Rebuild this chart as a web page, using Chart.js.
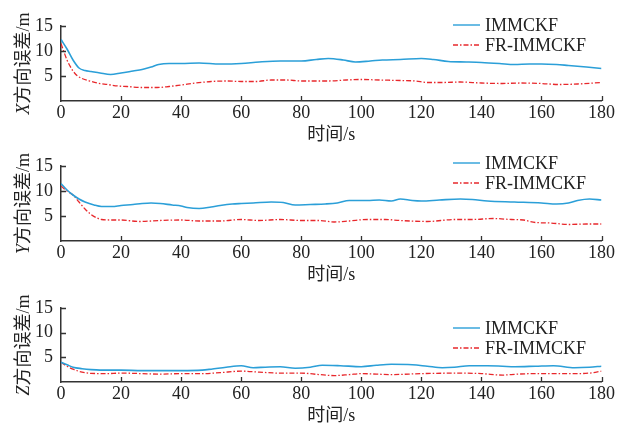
<!DOCTYPE html>
<html>
<head>
<meta charset="utf-8">
<script src="https://cdn.jsdelivr.net/npm/chart.js@4.4.1/dist/chart.umd.min.js"></script>
<style>
html, body { margin: 0; padding: 0; background: #fff; width: 624px; height: 425px; overflow: hidden; }
body { position: relative; }
canvas { position: absolute; left: 0; }
</style>
</head>
<body>
<canvas id="chartX" width="624" height="150" style="top:0px"></canvas>
<canvas id="chartY" width="624" height="150" style="top:140px"></canvas>
<canvas id="chartZ" width="624" height="150" style="top:282px"></canvas>
<script>
// axis ticks
const timeTicks = [0, 20, 40, 60, 80, 100, 120, 140, 160, 180];
const errorTicks = [5, 10, 15];
const seriesNames = ['IMMCKF', 'FR-IMMCKF'];

// X direction
const xTimeImm = [0, 2, 4, 6, 8, 10, 13, 16.5, 20, 24, 27, 30, 32.5, 36, 40, 46, 53, 60, 66, 73, 80, 85, 89, 94, 98, 103, 107, 113, 120, 124, 129, 135, 140, 146, 151, 156, 160, 165, 169, 175, 180];
const xErrImm = [12.3, 10.4, 8.2, 6.6, 6.1, 5.9, 5.6, 5.3, 5.6, 6.0, 6.3, 6.8, 7.3, 7.5, 7.5, 7.6, 7.4, 7.5, 7.8, 8.0, 8.0, 8.3, 8.5, 8.2, 7.8, 8.0, 8.2, 8.3, 8.5, 8.3, 7.9, 7.8, 7.7, 7.5, 7.3, 7.4, 7.4, 7.3, 7.1, 6.8, 6.5];
const xTimeFr = [0, 1, 2, 3, 4, 5.5, 7, 9, 12, 15.5, 19, 22, 27, 32, 36, 40, 45, 50, 55, 60, 65, 70, 75, 80, 85, 89, 95, 100, 106, 113, 118, 122, 127, 133, 140, 147, 153, 160, 166, 172, 180];
const xErrFr = [11.5, 9.8, 8.2, 7.0, 6.0, 5.0, 4.5, 4.1, 3.6, 3.3, 3.0, 2.9, 2.7, 2.7, 2.9, 3.2, 3.6, 3.9, 4.0, 3.9, 3.9, 4.2, 4.2, 4.0, 4.0, 4.0, 4.2, 4.3, 4.2, 4.1, 4.0, 3.7, 3.7, 3.8, 3.6, 3.5, 3.6, 3.5, 3.3, 3.4, 3.7];

// Y direction
const yTimeImm = [0, 2, 4, 6, 8, 11, 13.5, 17, 20, 24, 27, 30, 33, 37, 40, 42, 46, 50, 53, 57, 60, 64, 70, 74, 78, 83, 88, 92, 96, 102, 106, 110, 113, 117, 120, 126, 133, 137, 142, 151, 160, 165, 169, 172, 176, 180];
const yErrImm = [11.5, 10.2, 9.2, 8.4, 7.8, 7.2, 6.9, 6.9, 7.1, 7.3, 7.5, 7.6, 7.5, 7.2, 7.0, 6.7, 6.5, 6.8, 7.1, 7.4, 7.5, 7.6, 7.8, 7.7, 7.2, 7.3, 7.4, 7.6, 8.1, 8.1, 8.2, 8.0, 8.4, 8.1, 8.0, 8.2, 8.4, 8.3, 8.0, 7.8, 7.6, 7.4, 7.6, 8.1, 8.4, 8.2];
const yTimeFr = [0, 2, 4, 6, 8, 10, 12, 13.5, 17, 20, 26, 33, 40, 46, 53, 60, 66, 73, 80, 86, 91, 96, 102, 108, 113, 122, 131, 137, 144, 150, 154, 158, 163, 169, 175, 180];
const yErrFr = [11.0, 10.0, 9.2, 7.8, 6.4, 5.3, 4.6, 4.3, 4.2, 4.2, 3.9, 4.1, 4.2, 4.0, 4.0, 4.3, 4.1, 4.3, 4.1, 4.1, 3.8, 4.0, 4.3, 4.3, 4.1, 3.9, 4.3, 4.3, 4.5, 4.3, 4.2, 3.7, 3.6, 3.3, 3.4, 3.4];

// Z direction
const zTimeImm = [0, 2, 4, 7, 10, 13, 20, 27, 33, 40, 47, 50, 55, 60, 64, 68, 73, 78, 83, 87, 93, 100, 105, 110, 117, 122, 127, 131, 136, 142, 147, 151, 158, 164, 171, 176, 180];
const zErrImm = [4.0, 3.5, 3.0, 2.7, 2.5, 2.4, 2.4, 2.3, 2.3, 2.3, 2.4, 2.6, 3.0, 3.3, 2.9, 3.0, 3.1, 2.8, 3.0, 3.4, 3.3, 3.1, 3.4, 3.6, 3.5, 3.2, 2.9, 3.0, 3.3, 3.3, 3.2, 3.1, 3.2, 3.3, 2.9, 3.0, 3.2];
const zTimeFr = [0, 2, 4, 7, 10, 15, 20, 27, 33, 40, 47, 53, 60, 66, 73, 80, 86, 91, 96, 100, 105, 110, 120, 133, 140, 147, 152, 158, 165, 170, 176, 180];
const zErrFr = [4.0, 3.2, 2.6, 2.0, 1.75, 1.7, 1.8, 1.7, 1.6, 1.7, 1.7, 1.9, 2.2, 2.0, 1.8, 1.8, 1.5, 1.3, 1.5, 1.7, 1.6, 1.5, 1.7, 1.8, 1.7, 1.4, 1.6, 1.7, 1.7, 1.7, 1.8, 2.2];

const blue = '#2b9fd8';
const red = '#e8282c';
const redDash = [5, 2, 1.5, 2];
const serif = '"Liberation Serif", "Times New Roman", "Noto Sans CJK SC", serif';
const axisColor = '#333';

// inward ticks, rotated y title with italic letter, and the legend
const panelDecor = {
    id: 'panelDecor',
    afterDraw(chart, args, opts) {
        const ctx = chart.ctx;
        const area = chart.chartArea;
        const xs = chart.scales.x, ys = chart.scales.y;
        ctx.save();

        ctx.strokeStyle = axisColor;
        ctx.lineWidth = 1.3;
        ctx.beginPath();
        timeTicks.forEach(t => {
            if (t === 0) return;
            const px = Math.round(xs.getPixelForValue(t)) + 0.5;
            ctx.moveTo(px, area.bottom);
            ctx.lineTo(px, area.bottom - 5);
        });
        errorTicks.forEach(v => {
            const py = Math.round(ys.getPixelForValue(v)) + 0.5;
            ctx.moveTo(area.left, py);
            ctx.lineTo(area.left + 5, py);
        });
        ctx.stroke();

        // y title
        const italicFont = 'italic 18px ' + serif;
        const plainFont = '18px ' + serif;
        ctx.font = italicFont;
        const w1 = ctx.measureText(opts.letter).width;
        ctx.font = plainFont;
        const w2 = ctx.measureText(opts.rest).width;
        ctx.translate(24, (area.top + area.bottom) / 2);
        ctx.rotate(-Math.PI / 2);
        ctx.fillStyle = '#222';
        ctx.textBaseline = 'middle';
        ctx.textAlign = 'left';
        ctx.font = italicFont;
        ctx.fillText(opts.letter, -(w1 + w2) / 2, 0);
        ctx.font = plainFont;
        ctx.fillText(opts.rest, -(w1 + w2) / 2 + w1, 0);
        ctx.setTransform(1, 0, 0, 1, 0, 0);

        // legend
        const colors = [blue, red];
        const dashes = [[], redDash];
        opts.legendY.forEach((ly, i) => {
            ctx.strokeStyle = colors[i];
            ctx.lineWidth = 1.4;
            ctx.setLineDash(dashes[i]);
            ctx.beginPath();
            ctx.moveTo(453, ly);
            ctx.lineTo(480, ly);
            ctx.stroke();
            ctx.setLineDash([]);
            ctx.fillStyle = '#222';
            ctx.font = plainFont;
            ctx.textBaseline = 'middle';
            ctx.textAlign = 'left';
            ctx.fillText(seriesNames[i], 485, ly + 1);
        });
        ctx.restore();
    }
};

function toPoints(times, values) {
    return times.map((t, i) => ({ x: t, y: values[i] }));
}

function makePanel(id, letter, immT, immV, frT, frV, legendY, areaH) {
    const xHeight = 150 - 26 - areaH;
    new Chart(document.getElementById(id), {
        type: 'line',
        data: {
            datasets: [{
                label: seriesNames[0],
                data: toPoints(immT, immV),
                borderColor: blue,
                borderWidth: 1.6,
                pointRadius: 0,
                cubicInterpolationMode: 'monotone',
                fill: false
            }, {
                label: seriesNames[1],
                data: toPoints(frT, frV),
                borderColor: red,
                borderWidth: 1.3,
                borderDash: redDash,
                pointRadius: 0,
                cubicInterpolationMode: 'monotone',
                fill: false
            }]
        },
        options: {
            responsive: false,
            animation: false,
            devicePixelRatio: 1,
            layout: { padding: { top: 26, right: 22.5, left: 0, bottom: 0 } },
            plugins: {
                legend: { display: false },
                tooltip: { enabled: false },
                panelDecor: { letter: letter, rest: '方向误差/m', legendY: legendY }
            },
            scales: {
                x: {
                    type: 'linear',
                    min: 0,
                    max: 180,
                    grid: { display: false, drawTicks: false },
                    border: { display: true, color: axisColor, width: 1.5 },
                    ticks: { color: '#222', padding: 1, maxRotation: 0, font: { family: serif, size: 18 } },
                    afterBuildTicks: scale => { scale.ticks = timeTicks.map(v => ({ value: v })); },
                    afterFit: scale => { scale.height = xHeight; },
                    title: {
                        display: true,
                        text: '时间/s',
                        color: '#222',
                        font: { family: serif, size: 18, lineHeight: 1.2 },
                        padding: { top: 0, bottom: xHeight - 34 - 10.8 }
                    }
                },
                y: {
                    min: 0,
                    max: 15,
                    grid: { display: false, drawTicks: false },
                    border: { display: true, color: axisColor, width: 1.5 },
                    ticks: { color: '#222', padding: 8, font: { family: serif, size: 18 } },
                    afterBuildTicks: scale => { scale.ticks = errorTicks.map(v => ({ value: v })); },
                    afterFit: scale => { scale.width = 61; }
                }
            }
        },
        plugins: [panelDecor]
    });
}

makePanel('chartX', 'X', xTimeImm, xErrImm, xTimeFr, xErrFr, [25, 45], 75);
makePanel('chartY', 'Y', yTimeImm, yErrImm, yTimeFr, yErrFr, [163, 183].map(v => v - 140), 75);
makePanel('chartZ', 'Z', zTimeImm, zErrImm, zTimeFr, zErrFr, [328, 348].map(v => v - 282), 74);
</script>
</body>
</html>
